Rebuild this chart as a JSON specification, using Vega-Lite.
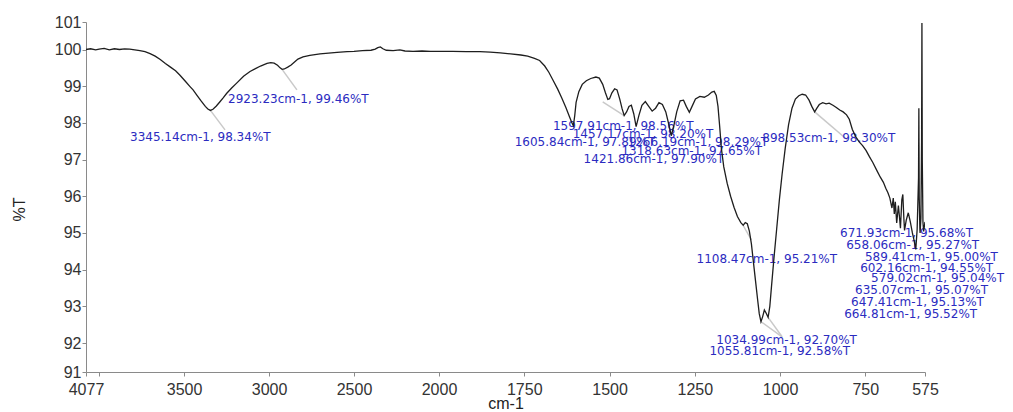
{
  "$schema": "https://vega.github.io/schema/vega-lite/v6.json",
  "width": 839,
  "height": 350,
  "autosize": {"type": "none"},
  "padding": {"left": 86, "top": 22, "right": 88, "bottom": 40},
  "background": "white",
  "config": {
    "view": {"stroke": null},
    "axis": {
      "grid": false,
      "domainColor": "#8a8a8a",
      "tickColor": "#8a8a8a",
      "tickSize": 4,
      "labelFont": "Liberation Sans",
      "labelFontSize": 16,
      "labelColor": "#333333",
      "titleFont": "Liberation Sans",
      "titleFontSize": 16,
      "titleFontWeight": "normal",
      "titleColor": "#222222",
      "labelFlush": false,
      "labelOverlap": false
    },
    "axisY": {"labelOverlap": false},
    "axisQuantitative": {"labelOverlap": false}
  },
  "datasets": {
    "spectrum": [
      {"wn":4077,"T":100.00},{"wn":4050,"T":100.02},{"wn":4020,"T":99.99},{"wn":4000,"T":100.01},{"wn":3970,"T":100.03},{"wn":3940,"T":99.99},{"wn":3910,"T":100.02},{"wn":3880,"T":100.00},{"wn":3850,"T":100.02},{"wn":3820,"T":100.01},{"wn":3790,"T":99.99},{"wn":3760,"T":99.97},{"wn":3730,"T":99.94},{"wn":3700,"T":99.89},{"wn":3670,"T":99.82},{"wn":3640,"T":99.73},{"wn":3610,"T":99.62},{"wn":3580,"T":99.52},{"wn":3550,"T":99.42},{"wn":3524,"T":99.30},{"wn":3490,"T":99.12},{"wn":3465,"T":98.99},{"wn":3447,"T":98.90},{"wn":3425,"T":98.76},{"wn":3400,"T":98.60},{"wn":3375,"T":98.45},{"wn":3360,"T":98.38},{"wn":3345,"T":98.34},{"wn":3330,"T":98.37},{"wn":3310,"T":98.46},{"wn":3290,"T":98.57},{"wn":3270,"T":98.68},{"wn":3250,"T":98.80},{"wn":3220,"T":98.95},{"wn":3189,"T":99.09},{"wn":3150,"T":99.27},{"wn":3112,"T":99.40},{"wn":3080,"T":99.48},{"wn":3050,"T":99.55},{"wn":3012,"T":99.62},{"wn":2990,"T":99.64},{"wn":2970,"T":99.63},{"wn":2950,"T":99.57},{"wn":2935,"T":99.50},{"wn":2923,"T":99.46},{"wn":2910,"T":99.47},{"wn":2890,"T":99.52},{"wn":2870,"T":99.58},{"wn":2850,"T":99.66},{"wn":2830,"T":99.74},{"wn":2800,"T":99.80},{"wn":2760,"T":99.84},{"wn":2700,"T":99.88},{"wn":2650,"T":99.90},{"wn":2600,"T":99.92},{"wn":2541,"T":99.94},{"wn":2500,"T":99.95},{"wn":2450,"T":99.97},{"wn":2400,"T":99.98},{"wn":2375,"T":100.01},{"wn":2360,"T":100.05},{"wn":2345,"T":100.07},{"wn":2330,"T":100.02},{"wn":2310,"T":99.98},{"wn":2270,"T":99.97},{"wn":2230,"T":99.99},{"wn":2200,"T":99.96},{"wn":2153,"T":99.95},{"wn":2100,"T":99.96},{"wn":2050,"T":99.95},{"wn":2000,"T":99.95},
      {"wn":1960,"T":99.95},{"wn":1920,"T":99.94},{"wn":1880,"T":99.94},{"wn":1850,"T":99.93},{"wn":1820,"T":99.91},{"wn":1790,"T":99.88},{"wn":1760,"T":99.85},{"wn":1740,"T":99.82},{"wn":1720,"T":99.76},{"wn":1705,"T":99.70},{"wn":1690,"T":99.55},{"wn":1678,"T":99.38},{"wn":1666,"T":99.17},{"wn":1652,"T":98.92},{"wn":1640,"T":98.68},{"wn":1628,"T":98.42},{"wn":1618,"T":98.18},{"wn":1611,"T":98.02},{"wn":1606,"T":97.92},{"wn":1602,"T":98.20},{"wn":1598,"T":98.56},{"wn":1590,"T":98.85},{"wn":1580,"T":99.05},{"wn":1568,"T":99.15},{"wn":1555,"T":99.21},{"wn":1540,"T":99.25},{"wn":1530,"T":99.22},{"wn":1520,"T":99.05},{"wn":1512,"T":98.82},{"wn":1505,"T":98.64},{"wn":1500,"T":98.66},{"wn":1493,"T":98.82},{"wn":1485,"T":98.93},{"wn":1478,"T":98.90},{"wn":1470,"T":98.65},{"wn":1463,"T":98.38},{"wn":1457,"T":98.20},{"wn":1450,"T":98.30},{"wn":1443,"T":98.45},{"wn":1436,"T":98.48},{"wn":1429,"T":98.25},{"wn":1422,"T":97.90},{"wn":1414,"T":98.20},{"wn":1405,"T":98.48},{"wn":1395,"T":98.58},{"wn":1385,"T":98.45},{"wn":1375,"T":98.32},{"wn":1365,"T":98.40},{"wn":1355,"T":98.55},{"wn":1345,"T":98.50},{"wn":1335,"T":98.30},{"wn":1326,"T":97.95},{"wn":1319,"T":97.65},{"wn":1312,"T":97.90},{"wn":1303,"T":98.30},{"wn":1293,"T":98.60},{"wn":1283,"T":98.62},{"wn":1275,"T":98.45},{"wn":1266,"T":98.29},{"wn":1258,"T":98.45},{"wn":1248,"T":98.65},{"wn":1235,"T":98.72},{"wn":1222,"T":98.70},{"wn":1210,"T":98.76},{"wn":1200,"T":98.84},{"wn":1193,"T":98.86},{"wn":1187,"T":98.75},{"wn":1182,"T":98.45},{"wn":1177,"T":97.90},{"wn":1172,"T":97.30},{"wn":1165,"T":96.80},{"wn":1155,"T":96.35},{"wn":1145,"T":96.00},{"wn":1135,"T":95.70},{"wn":1125,"T":95.45},{"wn":1115,"T":95.28},{"wn":1108,"T":95.21},{"wn":1102,"T":95.28},{"wn":1096,"T":95.25},{"wn":1090,"T":95.05},{"wn":1084,"T":94.70},{"wn":1078,"T":94.20},{"wn":1072,"T":93.70},{"wn":1066,"T":93.20},{"wn":1061,"T":92.80},{"wn":1056,"T":92.58},{"wn":1051,"T":92.72},{"wn":1046,"T":92.90},{"wn":1041,"T":92.82},{"wn":1035,"T":92.70},{"wn":1030,"T":93.00},{"wn":1025,"T":93.55},{"wn":1018,"T":94.30},{"wn":1010,"T":95.10},{"wn":1002,"T":95.90},{"wn":994,"T":96.60},{"wn":985,"T":97.30},{"wn":975,"T":97.95},{"wn":965,"T":98.40},{"wn":955,"T":98.65},{"wn":945,"T":98.74},{"wn":935,"T":98.78},{"wn":925,"T":98.76},{"wn":915,"T":98.62},{"wn":907,"T":98.45},{"wn":898.5,"T":98.30},{"wn":892,"T":98.40},{"wn":885,"T":98.50},{"wn":875,"T":98.55},{"wn":865,"T":98.52},{"wn":856,"T":98.54},{"wn":845,"T":98.48},{"wn":835,"T":98.42},{"wn":825,"T":98.35},{"wn":815,"T":98.30},{"wn":805,"T":98.22},{"wn":797,"T":98.10},{"wn":788,"T":97.82},{"wn":778,"T":97.62},{"wn":768,"T":97.48},{"wn":758,"T":97.38},{"wn":748,"T":97.25},{"wn":738,"T":97.08},{"wn":728,"T":96.92},{"wn":716,"T":96.70},{"wn":706,"T":96.52},{"wn":697,"T":96.38},{"wn":690,"T":96.22},{"wn":684,"T":96.10},{"wn":678,"T":95.95},{"wn":672,"T":95.68},{"wn":668,"T":95.95},{"wn":665,"T":95.52},{"wn":662,"T":95.85},{"wn":658,"T":95.27},{"wn":653,"T":95.75},{"wn":650,"T":95.45},{"wn":647,"T":95.13},{"wn":643,"T":95.90},{"wn":640,"T":96.05},{"wn":637,"T":95.40},{"wn":635,"T":95.07},{"wn":630,"T":95.35},{"wn":624,"T":95.55},{"wn":618,"T":95.30},{"wn":612,"T":95.00},{"wn":607,"T":94.80},{"wn":602,"T":94.55},{"wn":598,"T":95.10},{"wn":594,"T":96.50},{"wn":593,"T":98.40},{"wn":592,"T":96.00},{"wn":590,"T":95.10},{"wn":589.4,"T":95.00},{"wn":587,"T":95.40},{"wn":585,"T":97.50},{"wn":584,"T":100.72},{"wn":583,"T":97.00},{"wn":581,"T":95.30},{"wn":579,"T":95.04},{"wn":575,"T":95.30}
    ],
    "peaks": [
      {"wn":3345.14,"T":98.34,"label":"3345.14cm-1, 98.34%T","lx":3818,"ly":97.62},
      {"wn":2923.23,"T":99.46,"label":"2923.23cm-1, 99.46%T","lx":3241,"ly":98.65},
      {"wn":1597.91,"T":98.56,"label":"1597.91cm-1, 98.56%T","lx":1666,"ly":97.92},
      {"wn":1457.17,"T":98.20,"label":"1457.17cm-1, 98.20%T","lx":1608,"ly":97.70},
      {"wn":1605.84,"T":97.89,"label":"1605.84cm-1, 97.89%T","lx":1778,"ly":97.48},
      {"wn":1266.19,"T":98.29,"label":"1266.19cm-1, 98.29%T","lx":1447,"ly":97.48},
      {"wn":1318.63,"T":97.65,"label":"1318.63cm-1, 97.65%T","lx":1465,"ly":97.24},
      {"wn":1421.86,"T":97.90,"label":"1421.86cm-1, 97.90%T","lx":1576,"ly":97.02},
      {"wn":898.53,"T":98.30,"label":"898.53cm-1, 98.30%T","lx":1052,"ly":97.59},
      {"wn":1108.47,"T":95.21,"label":"1108.47cm-1, 95.21%T","lx":1245,"ly":94.29},
      {"wn":1034.99,"T":92.70,"label":"1034.99cm-1, 92.70%T","lx":1187,"ly":92.09},
      {"wn":1055.81,"T":92.58,"label":"1055.81cm-1, 92.58%T","lx":1207,"ly":91.79},
      {"wn":671.93,"T":95.68,"label":"671.93cm-1, 95.68%T","lx":824,"ly":95.00},
      {"wn":658.06,"T":95.27,"label":"658.06cm-1, 95.27%T","lx":806,"ly":94.67},
      {"wn":589.41,"T":95.00,"label":"589.41cm-1, 95.00%T","lx":751,"ly":94.35},
      {"wn":602.16,"T":94.55,"label":"602.16cm-1, 94.55%T","lx":765,"ly":94.05},
      {"wn":579.02,"T":95.04,"label":"579.02cm-1, 95.04%T","lx":733,"ly":93.77},
      {"wn":635.07,"T":95.07,"label":"635.07cm-1, 95.07%T","lx":780,"ly":93.44},
      {"wn":647.41,"T":95.13,"label":"647.41cm-1, 95.13%T","lx":792,"ly":93.12},
      {"wn":664.81,"T":95.52,"label":"664.81cm-1, 95.52%T","lx":812,"ly":92.79}
    ],
    "leaders": [
      {"wn":3345.14,"T":98.34,"wn2":3259,"T2":97.81},
      {"wn":2923.23,"T":99.46,"wn2":2836,"T2":98.90},
      {"wn":1457.17,"T":98.20,"wn2":1520,"T2":98.57},
      {"wn":1108.47,"T":95.21,"wn2":1084,"T2":94.81},
      {"wn":1055.81,"T":92.58,"wn2":994,"T2":92.17},
      {"wn":1034.99,"T":92.70,"wn2":994,"T2":92.17},
      {"wn":898.53,"T":98.30,"wn2":803,"T2":97.54}
    ]
  },
  "encoding": {
    "x": {"field": "wn", "type": "quantitative", "scale": {"domain": [4077, 2000, 575], "range": [0, 353, 839], "nice": false, "zero": false},
      "axis": {"title": "cm-1", "values": [4077, 4000, 3500, 3000, 2500, 2000, 1750, 1500, 1250, 1000, 750, 575], "labelExpr": "datum.value == 4000 ? '' : format(datum.value, 'd')", "labelPadding": 5, "labelOverlap": false, "labelFlush": false, "titleBaseline": "alphabetic", "titleY": 36}},
    "y": {"field": "T", "type": "quantitative", "scale": {"domain": [91.21, 100.75], "nice": false, "zero": false},
      "axis": {"title": "%T", "values": [91.21, 92, 93, 94, 95, 96, 97, 98, 99, 100, 100.75], "labelExpr": "format(round(datum.value), 'd')", "labelPadding": 1, "labelOverlap": false, "labelFlush": false, "labelBound": false, "titleX": -67, "titleY": 187, "titleBaseline": "middle", "titleAngle": -90}}
  },
  "layer": [
    {
      "data": {"name": "leaders"},
      "mark": {"type": "rule", "color": "#c9c9c9", "strokeWidth": 1.5},
      "encoding": {
        "x2": {"field": "wn2"},
        "y2": {"field": "T2"}
      }
    },
    {
      "data": {"name": "peaks"},
      "mark": {"type": "text", "align": "left", "baseline": "middle", "font": "DejaVu Sans", "fontSize": 12, "color": "#2b2bbf"},
      "encoding": {
        "x": {"field": "lx", "type": "quantitative", "title": "cm-1"},
        "y": {"field": "ly", "type": "quantitative", "title": "%T"},
        "text": {"field": "label"}
      }
    },
    {
      "data": {"name": "spectrum"},
      "mark": {"type": "line", "color": "#1e1e1e", "strokeWidth": 1.3, "clip": true},
      "encoding": {}
    }
  ]
}
